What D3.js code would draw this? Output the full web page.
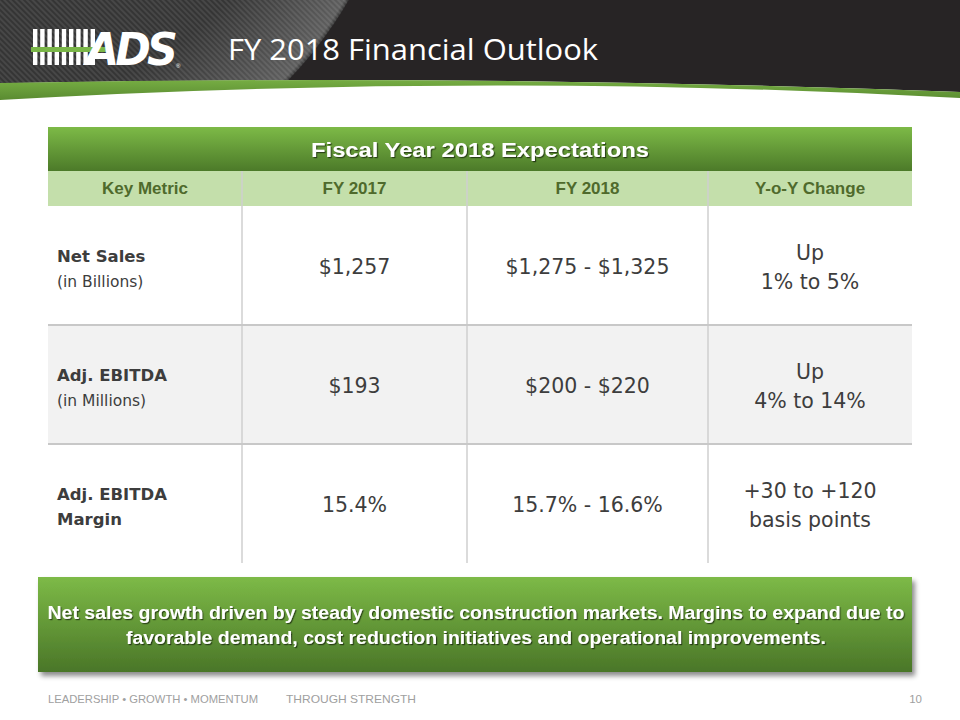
<!DOCTYPE html>
<html><head><meta charset="utf-8">
<script src="https://cdn.jsdelivr.net/npm/d3@7"></script>
<style>body{margin:0;background:#fff}svg{display:block}</style>
</head><body>
<script>
const title = "FY 2018 Financial Outlook";
const tableTitle = "Fiscal Year 2018 Expectations";
const columns = ["Key Metric", "FY 2017", "FY 2018", "Y-o-Y Change"];
const metrics = [["Net Sales", "(in Billions)"], ["Adj. EBITDA", "(in Millions)"], ["Adj. EBITDA", "Margin"]];
const metricBoldSecond = [false, false, true];
const fy2017 = ["$1,257", "$193", "15.4%"];
const fy2018 = ["$1,275 - $1,325", "$200 - $220", "15.7% - 16.6%"];
const yoy = [["Up", "1% to 5%"], ["Up", "4% to 14%"], ["+30 to +120", "basis points"]];
const note = ["Net sales growth driven by steady domestic construction markets. Margins to expand due to",
              "favorable demand, cost reduction initiatives and operational improvements."];
const footerLeft = "LEADERSHIP \u2022 GROWTH \u2022 MOMENTUM";
const footerMid = "THROUGH STRENGTH";
const pageNo = "10";

const W = 960, H = 720;
const svg = d3.select("body").append("svg").attr("width", W).attr("height", H);
const defs = svg.append("defs");

const pat = defs.append("pattern").attr("id","stripes").attr("width",4).attr("height",4)
  .attr("patternUnits","userSpaceOnUse").attr("patternTransform","rotate(-45)");
pat.append("rect").attr("width",4).attr("height",4).attr("fill","#474747");
pat.append("rect").attr("width",2).attr("height",4).attr("fill","#353535");

function vgrad(id, top, bottom) {
  const g = defs.append("linearGradient").attr("id", id).attr("x1",0).attr("y1",0).attr("x2",0).attr("y2",1);
  g.append("stop").attr("offset","0%").attr("stop-color", top);
  g.append("stop").attr("offset","100%").attr("stop-color", bottom);
}
vgrad("hdrGreen", "#7dba47", "#4c7a29");
vgrad("boxGreen", "#7dba47", "#4a7628");
vgrad("bandGreen", "#76ad43", "#5a8b31");
const rg = defs.append("radialGradient").attr("id","glow").attr("cx",0).attr("cy",-200).attr("r",402).attr("gradientUnits","userSpaceOnUse");
rg.append("stop").attr("offset","75%").attr("stop-color","#fff").attr("stop-opacity",0);
rg.append("stop").attr("offset","99%").attr("stop-color","#fff").attr("stop-opacity",0.2);
rg.append("stop").attr("offset","100%").attr("stop-color","#fff").attr("stop-opacity",0);

const shadow = defs.append("filter").attr("id","ts").attr("x","-10%").attr("y","-50%").attr("width","120%").attr("height","200%");
shadow.append("feDropShadow").attr("dx",1.2).attr("dy",1.2).attr("stdDeviation",0.6).attr("flood-color","#000").attr("flood-opacity",0.55);
const bshadow = defs.append("filter").attr("id","bs").attr("x","-5%").attr("y","-20%").attr("width","110%").attr("height","150%");
bshadow.append("feDropShadow").attr("dx",3).attr("dy",4).attr("stdDeviation",2.5).attr("flood-color","#000").attr("flood-opacity",0.45);

// header band
const hdrPath = "M0,0H960V92Q480,74 0,83Z";
defs.append("clipPath").attr("id","hdrClip").append("path").attr("d", hdrPath);
svg.append("path").attr("d", hdrPath).attr("fill","#272425");
const hg = svg.append("g").attr("clip-path","url(#hdrClip)");
hg.append("circle").attr("cx",0).attr("cy",-200).attr("r",402).attr("fill","url(#stripes)");
hg.append("circle").attr("cx",0).attr("cy",-200).attr("r",402).attr("fill","url(#glow)");
svg.append("path").attr("d","M0,83Q480,74 960,92V98Q480,72 0,100Z").attr("fill","url(#bandGreen)");

// logo
const logo = svg.append("g");
const stripeX = d3.range(9).map(i => 33 + i * 7.2);
logo.selectAll("rect.st").data(stripeX).join("rect").attr("class","st")
  .attr("x", d => d).attr("y", 29).attr("width", 4.4).attr("height", 36).attr("fill", "#fff");
logo.append("rect").attr("x",31).attr("y",47).attr("width",80).attr("height",5).attr("fill","#7ab648");
logo.append("text").attr("x",86).attr("y",65).attr("font-family","DejaVu Sans").attr("font-weight","bold")
  .attr("font-style","italic").attr("font-size",44).attr("letter-spacing",-4).attr("fill","#fff")
  .attr("textLength",88).attr("lengthAdjust","spacingAndGlyphs").text("ADS");
logo.append("text").attr("x",176).attr("y",68).attr("font-family","Liberation Sans").attr("font-size",6).attr("fill","#fff").text("\u00AE");

svg.append("text").attr("x",228).attr("y",60).attr("font-family","Open Sans").attr("font-size",29)
  .attr("fill","#fff").attr("textLength",370).attr("lengthAdjust","spacingAndGlyphs").text(title);

// table
const x0 = 48, x1 = 912;
const colEdges = [48, 242, 467, 708, 912];
const colX = d3.scaleOrdinal().domain(columns).range(colEdges.slice(0, 4));
const colW = d3.scaleOrdinal().domain(columns).range(colEdges.slice(1).map((e, i) => e - colEdges[i]));
const rowY = d3.scaleBand().domain(d3.range(metrics.length)).range([206, 563]).padding(0);
const rowFill = ["#ffffff", "#f2f2f2", "#ffffff"];

svg.append("rect").attr("x",x0).attr("y",127).attr("width",x1-x0).attr("height",44).attr("fill","url(#hdrGreen)");
svg.append("text").attr("x",(x0+x1)/2).attr("y",157).attr("text-anchor","middle").attr("font-family","Liberation Sans")
  .attr("font-weight","bold").attr("font-size",20).attr("fill","#fff").attr("filter","url(#ts)")
  .attr("textLength",338).attr("lengthAdjust","spacingAndGlyphs").text(tableTitle);
svg.append("rect").attr("x",x0).attr("y",171).attr("width",x1-x0).attr("height",35).attr("fill","#c4dfab");

svg.selectAll("text.colh").data(columns).join("text").attr("class","colh")
  .attr("x", d => colX(d) + colW(d) / 2).attr("y", 194).attr("text-anchor","middle")
  .attr("font-family","Liberation Sans").attr("font-weight","bold").attr("font-size",17)
  .attr("fill","#4f6a2c").text(d => d);

const rows = svg.selectAll("g.row").data(metrics.map((m, i) => i)).join("g").attr("class","row");
rows.append("rect").attr("x",x0).attr("y", i => rowY(i)).attr("width",x1-x0).attr("height",rowY.bandwidth())
  .attr("fill", i => rowFill[i]);
svg.selectAll("line.v").data(colEdges.slice(1, 4)).join("line").attr("class","v")
  .attr("x1", d => d).attr("x2", d => d).attr("y1", 171).attr("y2", 563)
  .attr("stroke","#cfcfcf").attr("stroke-width",1.5);
svg.selectAll("line.h").data([1, 2]).join("line").attr("class","h")
  .attr("x1", x0).attr("x2", x1).attr("y1", i => rowY(i)).attr("y2", i => rowY(i))
  .attr("stroke","#c8c8c8").attr("stroke-width",2);

const bodyFont = "DejaVu Sans", bodyColor = "#3d3d3d";
rows.append("text").attr("x",57).attr("y", i => rowY(i) + rowY.bandwidth()/2 - 4)
  .attr("font-family",bodyFont).attr("font-weight","bold").attr("font-size",16.5).attr("fill",bodyColor)
  .text(i => metrics[i][0]);
rows.append("text").attr("x",57).attr("y", i => rowY(i) + rowY.bandwidth()/2 + 21)
  .attr("font-family",bodyFont).attr("font-weight", i => metricBoldSecond[i] ? "bold" : "normal")
  .attr("font-size", i => metricBoldSecond[i] ? 16.5 : 15.5).attr("fill",bodyColor)
  .text(i => metrics[i][1]);
const valSize = 20.5;
rows.append("text").attr("x", colX("FY 2017") + colW("FY 2017")/2).attr("y", i => rowY(i) + rowY.bandwidth()/2 + 8)
  .attr("text-anchor","middle").attr("font-family",bodyFont).attr("font-size",valSize).attr("fill",bodyColor)
  .text(i => fy2017[i]);
rows.append("text").attr("x", colX("FY 2018") + colW("FY 2018")/2).attr("y", i => rowY(i) + rowY.bandwidth()/2 + 8)
  .attr("text-anchor","middle").attr("font-family",bodyFont).attr("font-size",valSize).attr("fill",bodyColor)
  .text(i => fy2018[i]);
rows.append("text").attr("x", colX("Y-o-Y Change") + colW("Y-o-Y Change")/2).attr("y", i => rowY(i) + rowY.bandwidth()/2 - 6)
  .attr("text-anchor","middle").attr("font-family",bodyFont).attr("font-size",valSize).attr("fill",bodyColor)
  .text(i => yoy[i][0]);
rows.append("text").attr("x", colX("Y-o-Y Change") + colW("Y-o-Y Change")/2).attr("y", i => rowY(i) + rowY.bandwidth()/2 + 23)
  .attr("text-anchor","middle").attr("font-family",bodyFont).attr("font-size",valSize).attr("fill",bodyColor)
  .text(i => yoy[i][1]);

// note box
svg.append("rect").attr("x",38).attr("y",577).attr("width",874).attr("height",95)
  .attr("fill","url(#boxGreen)").attr("filter","url(#bs)");
const noteWidths = [857, 700];
svg.selectAll("text.note").data(note).join("text").attr("class","note")
  .attr("x", 476).attr("y", (d, i) => 619 + i * 25).attr("text-anchor","middle")
  .attr("font-family","Liberation Sans").attr("font-weight","bold").attr("font-size",18)
  .attr("textLength", (d, i) => noteWidths[i]).attr("lengthAdjust","spacingAndGlyphs")
  .attr("fill","#fff").attr("filter","url(#ts)").text(d => d);

// footer
svg.append("text").attr("x",48).attr("y",703).attr("font-family","Liberation Sans")
  .attr("font-size",11).attr("fill","#a0a0a0").attr("textLength",210).attr("lengthAdjust","spacingAndGlyphs").text(footerLeft);
svg.append("text").attr("x",286).attr("y",703).attr("font-family","Liberation Sans")
  .attr("font-size",11.5).attr("fill","#a0a0a0").attr("textLength",130).attr("lengthAdjust","spacingAndGlyphs").text(footerMid);
svg.append("text").attr("x",922).attr("y",703).attr("text-anchor","end").attr("font-family","Liberation Sans")
  .attr("font-size",11.5).attr("fill","#a0a0a0").text(pageNo);
</script>
</body></html>
